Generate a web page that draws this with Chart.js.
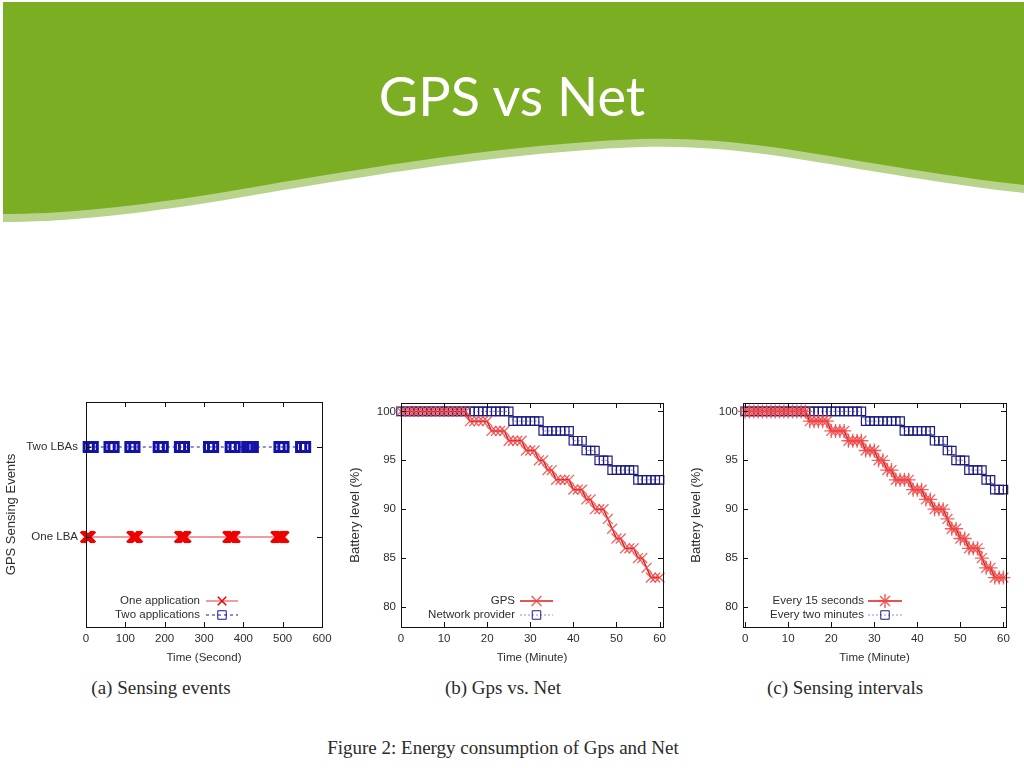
<!DOCTYPE html>
<html><head><meta charset="utf-8">
<script src="https://cdn.jsdelivr.net/npm/chart.js@4.4.1/dist/chart.umd.min.js"></script>
<style>
html,body{margin:0;padding:0;background:#fff;width:1024px;height:768px;overflow:hidden;position:relative;font-family:"Liberation Sans",Arial,sans-serif;}
#banner{position:absolute;left:0;top:0;}
#title{position:absolute;left:0;width:1024px;top:69px;text-align:center;color:#fff;font-family:Lato,"Open Sans",sans-serif;font-size:54px;line-height:54px;white-space:nowrap;}
.cap{position:absolute;font-family:"Liberation Serif","Times New Roman",serif;font-size:19px;line-height:20px;color:#2b2b2b;text-align:center;white-space:nowrap;width:400px;}
.box{position:absolute;}
</style></head>
<body>
<svg id="banner" width="1024" height="240">
  <path d="M3,2 H1024 V193 C850,173 760,143 640,147 C480,153 300,188 200,204 C120,216 60,222 3,222 Z" fill="#B7D38C"/>
  <path d="M3,2 H1024 V185 C850,165 760,135 640,139 C480,145 300,180 200,196 C120,208 60,214 3,214 Z" fill="#7BAE23"/>
</svg>
<div id="title">GPS vs Net</div>

<div class="box" style="left:4px;top:387px;width:333px;height:278px;"><canvas id="chA"></canvas></div>
<div class="box" style="left:348px;top:391px;width:330px;height:274px;"><canvas id="chB"></canvas></div>
<div class="box" style="left:689px;top:391px;width:332px;height:274px;"><canvas id="chC"></canvas></div>

<div class="cap" style="left:-39px;top:678px;">(a) Sensing events</div>
<div class="cap" style="left:303px;top:678px;">(b) Gps vs. Net</div>
<div class="cap" style="left:645px;top:678px;">(c) Sensing intervals</div>
<div class="cap" style="left:303px;top:738px;">Figure 2: Energy consumption of Gps and Net</div>

<script>
// ---------- DATA ----------
// (a) Sensing events
const lbaLabels = ['One LBA', 'Two LBAs'];
const lbaLevels = [1, 2];
const secondTicks = [0, 100, 200, 300, 400, 500, 600];
const oneAppTimes = [0,2,4,6,8,10, 118,120,122,124,126,128,130, 239,241,243,245,247,249,251,253,
                     362,364,366,368,370,372,374,376,378, 484,486,488,490,492,494,496,498,500,502];
const twoAppTimes = [7,17, 60,70, 113,123, 185,195, 239,249, 313,323, 368,378, 410,417,424, 492,502, 547,557];

// (b) and (c) battery level per minute
const minutes = [0,1,2,3,4,5,6,7,8,9,10,11,12,13,14,15,16,17,18,19,20,21,22,23,24,25,26,27,28,29,30,
                 31,32,33,34,35,36,37,38,39,40,41,42,43,44,45,46,47,48,49,50,51,52,53,54,55,56,57,58,59,60];
const minuteTicks = [0, 10, 20, 30, 40, 50, 60];
const batteryTicks = [80, 85, 90, 95, 100];
const gpsLevel = [100,100,100,100,100,100,100,100,100,100,100,100,100,100,100,100,
                  99,99,99,99,99, 98,98,98,98, 97,97,97,97, 96,96,96, 95,95, 94,94,
                  93,93,93,93, 92,92,92, 91,91, 90,90,90, 89, 88, 87,87, 86,86,86, 85,85, 84, 83,83,83];
const netLevel = [100,100,100,100,100,100,100,100,100,100,100,100,100,100,100,100,100,100,100,100,100,100,100,100,100,100,
                  99,99,99,99,99,99,99, 98,98,98,98,98,98,98, 97,97,97, 96,96,96, 95,95,95,
                  94,94,94,94,94,94, 93,93,93,93,93,93];
const every15sLevel = [100,100,100,100,100,100,100,100,100,100,100,100,100,100,100,
                  99,99,99,99,99, 98,98,98,98, 97,97,97,97, 96,96,96, 95,95, 94,94,
                  93,93,93,93, 92,92,92, 91,91, 90,90,90, 89, 88,88, 87,87, 86,86,86, 85, 84,84, 83,83,83];
const every2minLevel = [100,100,100,100,100,100,100,100,100,100,100,100,100,100,100,100,100,100,100,100,100,100,100,100,100,100,100,100,
                  99,99,99,99,99,99,99,99,99, 98,98,98,98,98,98,98, 97,97,97, 96,96, 95,95,95,
                  94,94,94,94, 93,93, 92,92,92];

// ---------- HELPERS ----------
const TXT = '#2e2e2e';
const FONT = {family: '"Liberation Sans", Arial, sans-serif', size: 11.5};
const YTITLE_FONT = {family: '"Liberation Sans", Arial, sans-serif', size: 13};

function drawMarker(ctx, style, r, bw, x, y) {
  if (Chart.helpers && Chart.helpers.drawPoint) {
    Chart.helpers.drawPoint(ctx, {pointStyle: style, radius: r, borderWidth: bw, rotation: 0}, x, y);
    return;
  }
  ctx.beginPath();
  if (style === 'rect') {
    const s = r * Math.SQRT1_2; ctx.rect(x - s, y - s, 2 * s, 2 * s);
  } else {
    const o = r * Math.SQRT1_2;
    ctx.moveTo(x - o, y - o); ctx.lineTo(x + o, y + o);
    ctx.moveTo(x - o, y + o); ctx.lineTo(x + o, y - o);
    if (style === 'star') { ctx.moveTo(x, y - r); ctx.lineTo(x, y + r); ctx.moveTo(x - r, y); ctx.lineTo(x + r, y); }
  }
  ctx.stroke();
}

const framePlugin = {
  id: 'frame',
  afterDatasetsDraw(chart, args, opts) {
    const {ctx, chartArea: {left, right, top, bottom}, scales: {x, y}} = chart;
    ctx.save();
    ctx.strokeStyle = '#111';
    ctx.lineWidth = 1;
    ctx.setLineDash([]);
    const L = 5;
    ctx.beginPath();
    x.ticks.forEach(t => {
      const px = Math.round(x.getPixelForValue(t.value)) + 0.5;
      ctx.moveTo(px, bottom); ctx.lineTo(px, bottom - L);
      ctx.moveTo(px, top); ctx.lineTo(px, top + L);
    });
    y.ticks.forEach(t => {
      const py = Math.round(y.getPixelForValue(t.value)) + 0.5;
      ctx.moveTo(left, py); ctx.lineTo(left + L, py);
      ctx.moveTo(right, py); ctx.lineTo(right - L, py);
    });
    ctx.stroke();
    ctx.strokeRect(Math.round(left) + 0.5, Math.round(top) + 0.5, Math.round(right - left), Math.round(bottom - top));
    // legend inside the plot
    const lg = opts.legend;
    if (lg) {
      ctx.font = FONT.size + 'px ' + FONT.family;
      ctx.textAlign = 'right';
      ctx.textBaseline = 'middle';
      lg.rows.forEach((dy, i) => {
        const ds = chart.data.datasets[i];
        const yy = bottom - dy;
        ctx.fillStyle = TXT;
        ctx.fillText(ds.label, left + lg.textRight, yy);
        ctx.strokeStyle = ds.borderColor;
        ctx.lineWidth = ds.borderWidth;
        ctx.setLineDash(ds.borderDash || []);
        ctx.beginPath();
        ctx.moveTo(left + lg.s0, yy); ctx.lineTo(left + lg.s1, yy);
        ctx.stroke();
        ctx.setLineDash([]);
        ctx.strokeStyle = ds.pointBorderColor;
        ctx.fillStyle = 'rgba(0,0,0,0)';
        drawMarker(ctx, ds.pointStyle, ds.legendRadius || ds.pointRadius, ds.legendBorder || ds.pointBorderWidth, left + (lg.s0 + lg.s1) / 2, yy);
      });
    }
    ctx.restore();
  }
};

function axisX(min, max, ticks, title, h) {
  return {
    type: 'linear', min: min, max: max,
    afterBuildTicks: s => { s.ticks = ticks.map(v => ({value: v})); },
    afterFit: s => { s.height = h; },
    grid: {display: false, drawTicks: false},
    border: {display: false},
    ticks: {color: TXT, font: FONT, padding: 5, maxRotation: 0, autoSkip: false},
    title: {display: true, text: title, color: TXT, font: FONT, padding: {top: 0, bottom: 0}}
  };
}
function axisY(min, max, ticks, title, w, pad, labels) {
  return {
    type: 'linear', min: min, max: max,
    afterBuildTicks: s => { s.ticks = ticks.map(v => ({value: v})); },
    afterFit: s => { s.width = w; },
    grid: {display: false, drawTicks: false},
    border: {display: false},
    ticks: {color: TXT, font: FONT, padding: pad, autoSkip: false,
            callback: labels ? (v) => labels[ticks.indexOf(v)] : (v) => String(v)},
    title: {display: true, text: title, color: TXT, font: YTITLE_FONT, padding: {top: 0, bottom: 0}}
  };
}
function baseOpts(padTop) {
  return {
    responsive: true, maintainAspectRatio: false, animation: false,
    layout: {padding: {left: 0, right: 15, top: padTop, bottom: 0}},
    plugins: {legend: {display: false}, tooltip: {enabled: false}}
  };
}

// ---------- CHART (a) ----------
(function () {
  const o = baseOpts(15);
  o.scales = {
    x: axisX(0, 600, secondTicks, 'Time (Second)', 38),
    y: axisY(0, 2.5, lbaLevels, 'GPS Sensing Events', 82, 8, lbaLabels)
  };
  o.plugins.frame = {legend: {textRight: 114, s0: 120, s1: 152, rows: [26, 12]}};
  new Chart(document.getElementById('chA'), {
    type: 'line',
    data: {datasets: [
      {label: 'One application', data: oneAppTimes.map(t => ({x: t, y: lbaLevels[0]})),
       borderColor: '#f07a7a', borderWidth: 1.5, pointStyle: 'crossRot', pointRadius: 7.5,
       pointBorderWidth: 2.5, pointBorderColor: '#ee0000', pointBackgroundColor: '#ee0000', clip: false,
       legendRadius: 6, legendBorder: 1.2},
      {label: 'Two applications', data: twoAppTimes.map(t => ({x: t, y: lbaLevels[1]})),
       borderColor: '#1a1a9a', borderWidth: 1, borderDash: [3, 3], pointStyle: 'rect', pointRadius: 6.5,
       pointBorderWidth: 3, pointBorderColor: '#1212aa', pointBackgroundColor: 'rgba(0,0,0,0)', clip: false,
       legendRadius: 6, legendBorder: 1.2}
    ]},
    options: o,
    plugins: [framePlugin]
  });
})();

// ---------- CHART (b) and (c) ----------
function batteryChart(id, xmin, xmax, yW, redLabel, redLevels, redStyle, blueLabel, blueLevels, legendCfg) {
  const o = baseOpts(12);
  o.scales = {
    x: axisX(xmin, xmax, minuteTicks, 'Time (Minute)', 38),
    y: axisY(77.95, 100.86, batteryTicks, 'Battery level (%)', yW, 5, null)
  };
  o.plugins.frame = {legend: legendCfg};
  new Chart(document.getElementById(id), {
    type: 'line',
    data: {datasets: [
      {label: redLabel, data: minutes.map((m, i) => ({x: m, y: redLevels[i]})),
       borderColor: '#d81e1e', borderWidth: 1.5, pointStyle: redStyle, pointRadius: 7,
       pointBorderWidth: 1.3, pointBorderColor: 'rgba(240,70,70,0.85)', pointBackgroundColor: 'rgba(0,0,0,0)', clip: false},
      {label: blueLabel, data: minutes.map((m, i) => ({x: m, y: blueLevels[i]})),
       borderColor: '#8a8aff', borderWidth: 1, borderDash: [2, 2], pointStyle: 'rect', pointRadius: 6,
       pointBorderWidth: 1.2, pointBorderColor: '#1c1c80', pointBackgroundColor: 'rgba(0,0,0,0)', clip: false}
    ]},
    options: o,
    plugins: [framePlugin]
  });
}
batteryChart('chB', 0, 60.8, 53, 'GPS', gpsLevel, 'crossRot', 'Network provider', netLevel,
             {textRight: 114, s0: 119, s1: 152, rows: [26, 12]});
batteryChart('chC', -0.5, 60.6, 54, 'Every 15 seconds', every15sLevel, 'star', 'Every two minutes', every2minLevel,
             {textRight: 121, s0: 125, s1: 159, rows: [26, 12]});
</script>
</body></html>
